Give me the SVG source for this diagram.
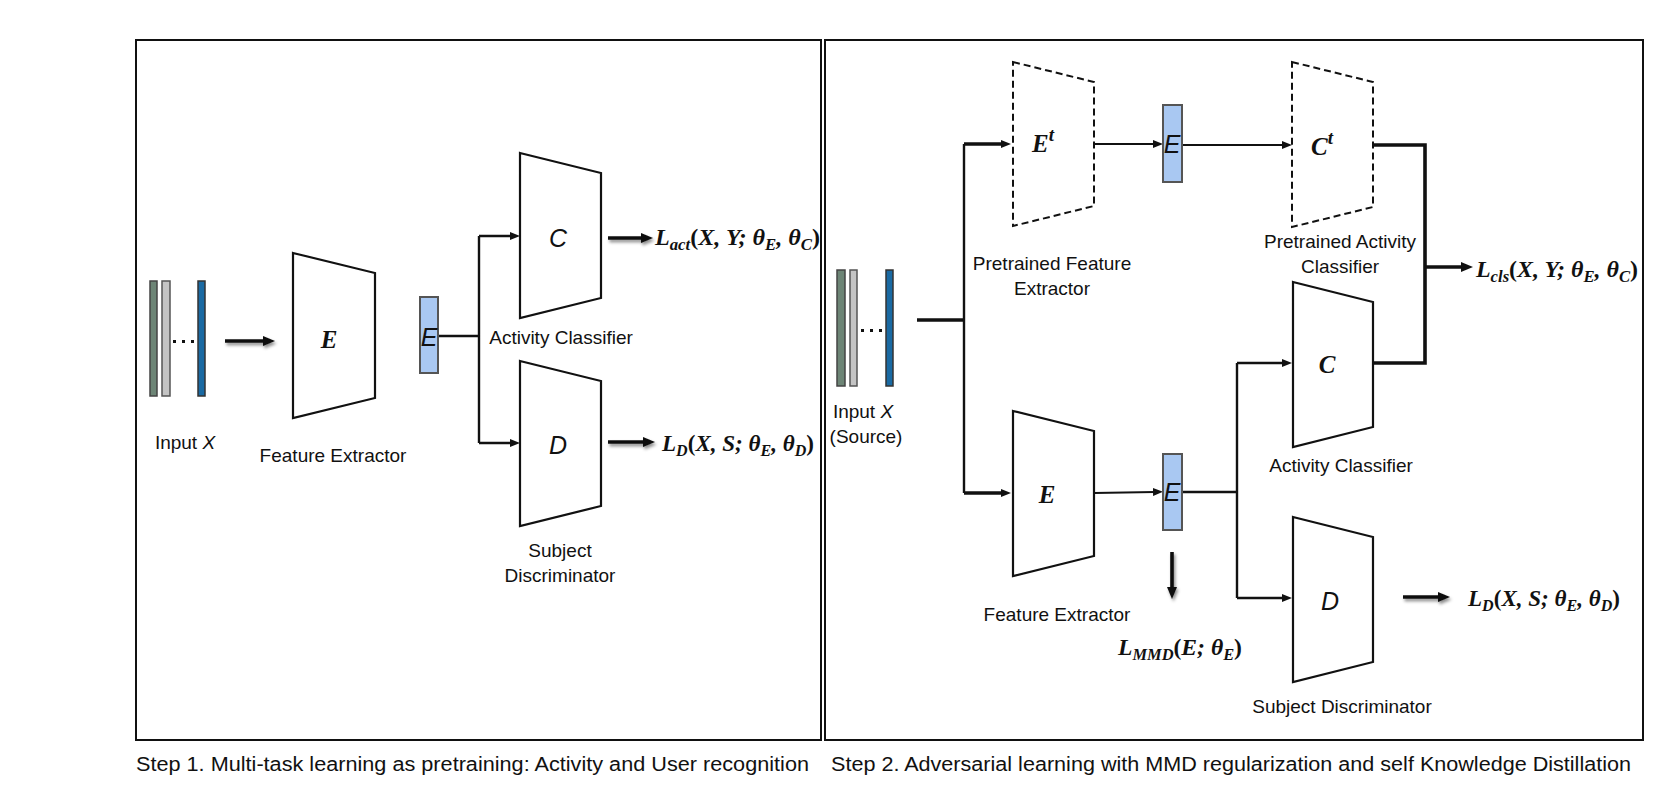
<svg xmlns="http://www.w3.org/2000/svg" width="1675" height="801" viewBox="0 0 1675 801">
<style>
  .frame{fill:none;stroke:#111;stroke-width:2}
  .trap{fill:#fff;stroke:#111;stroke-width:2.2}
  .dash{fill:#fff;stroke:#111;stroke-width:2;stroke-dasharray:7,4}
  .ebar{fill:#a9c8f2;stroke:#555;stroke-width:2}
  .lbl{font-family:"Liberation Sans",Arial,sans-serif;font-size:19px;fill:#111;text-anchor:middle}
  .cap{font-family:"Liberation Sans",Arial,sans-serif;font-size:19.5px;fill:#111}
  .sl{font-family:"Liberation Sans",Arial,sans-serif;font-style:italic;font-size:25px;fill:#111;text-anchor:middle}
  .ml{font-family:"Liberation Serif","Times New Roman",serif;font-style:italic;font-weight:bold;fill:#111}
  .mc{font-family:"Liberation Serif","Times New Roman",serif;font-style:italic;font-weight:bold;font-size:25px;fill:#111;text-anchor:middle}
  .up{font-style:normal}
  .thin{fill:none;stroke:#111;stroke-width:2.4}
  .hair{fill:none;stroke:#111;stroke-width:1.8}
  .thick{fill:none;stroke:#111;stroke-width:3.6}
</style>
<defs>
  <marker id="ht" viewBox="0 0 10 8" refX="2" refY="4" markerWidth="10" markerHeight="8" markerUnits="userSpaceOnUse" orient="auto">
    <path d="M0,0 L10,4 L0,8 z" fill="#111"/>
  </marker>
  <marker id="hk" viewBox="0 0 12 10" refX="2" refY="5" markerWidth="12" markerHeight="10" markerUnits="userSpaceOnUse" orient="auto">
    <path d="M0,0 L12,5 L0,10 z" fill="#111"/>
  </marker>
  <filter id="sh" filterUnits="userSpaceOnUse" x="0" y="0" width="1675" height="801">
    <feDropShadow dx="1.5" dy="2.5" stdDeviation="1.6" flood-color="#000" flood-opacity="0.45"/>
  </filter>
</defs>
<rect width="1675" height="801" fill="#fff"/>

<g id="frames">
  <rect class="frame" x="136" y="40" width="685" height="700"/>
  <rect class="frame" x="825" y="40" width="818" height="700"/>
</g>

<g id="connectors">
  <!-- step 1 -->
  <path class="thick" d="M225,341 H265" marker-end="url(#hk)" filter="url(#sh)"/>
  <path class="thin" d="M438,336 H479 M479,236 V443"/>
  <path class="thin" d="M479,236 H512" marker-end="url(#ht)"/>
  <path class="thin" d="M479,443 H512" marker-end="url(#ht)"/>
  <path class="thick" d="M608,238 H643" marker-end="url(#hk)" filter="url(#sh)"/>
  <path class="thick" d="M608,442 H645" marker-end="url(#hk)" filter="url(#sh)"/>
  <!-- step 2 -->
  <path class="thick" d="M917,320 H964"/>
  <path class="thin" d="M964,144 V493"/>
  <path class="thick" d="M964,144 H1003" marker-end="url(#ht)"/>
  <path class="thick" d="M964,493 H1003" marker-end="url(#ht)"/>
  <path class="hair" d="M1094,144 H1155" marker-end="url(#ht)"/>
  <path class="hair" d="M1182,145 H1284" marker-end="url(#ht)"/>
  <path class="thick" d="M1373,145 H1425 V363 H1373"/>
  <path class="thick" d="M1425,267 H1463" marker-end="url(#hk)"/>
  <path class="hair" d="M1094,493 L1155,492" marker-end="url(#ht)"/>
  <path class="thin" d="M1182,492 H1237 M1237,363 V598"/>
  <path class="thin" d="M1237,363 H1284" marker-end="url(#ht)"/>
  <path class="thin" d="M1237,598 H1284" marker-end="url(#ht)"/>
  <path class="thick" d="M1172,552 V589" marker-end="url(#hk)" filter="url(#sh)"/>
  <path class="thick" d="M1403,597 H1440" marker-end="url(#hk)" filter="url(#sh)"/>
</g>

<!-- Step 1 nodes -->
<g id="input1">
  <rect x="150" y="281" width="7" height="115" fill="#6d8576" stroke="#444" stroke-width="1.5"/>
  <rect x="162" y="281" width="8" height="115" fill="#c4c4c4" stroke="#555" stroke-width="1.5"/>
  <rect x="198" y="281" width="7" height="115" fill="#1a6aa3" stroke="#333" stroke-width="1.5"/>
  <rect x="173" y="340" width="3" height="3" fill="#111"/>
  <rect x="182" y="340" width="3" height="3" fill="#111"/>
  <rect x="191" y="340" width="3" height="3" fill="#111"/>
  <text class="lbl" x="185" y="449">Input <tspan font-style="italic">X</tspan></text>
</g>
<g id="encoder1">
  <polygon class="trap" points="293,253 375,273 375,398 293,418"/>
  <text class="mc" x="329" y="348" font-size="23">E</text>
  <text class="lbl" x="333" y="462">Feature Extractor</text>
</g>
<g id="embed1">
  <rect class="ebar" x="420" y="297" width="18" height="76"/>
  <text class="sl" x="429" y="346">E</text>
</g>
<g id="classifier1">
  <polygon class="trap" points="520,153 601,173 601,298 520,318"/>
  <text class="sl" x="558" y="247">C</text>
  <text class="lbl" x="561" y="344">Activity Classifier</text>
</g>
<g id="discriminator1">
  <polygon class="trap" points="520,361 601,381 601,506 520,526"/>
  <text class="sl" x="558" y="454">D</text>
  <text class="lbl" x="560" y="557">Subject</text>
  <text class="lbl" x="560" y="582">Discriminator</text>
</g>
<g id="loss-act">
  <text class="ml" x="655" y="245" font-size="23" textLength="165" lengthAdjust="spacingAndGlyphs">L<tspan font-size="16" dy="5">act</tspan><tspan class="up" dy="-5">(</tspan>X, Y; θ<tspan font-size="16" dy="5">E</tspan><tspan dy="-5">, θ</tspan><tspan font-size="16" dy="5">C</tspan><tspan class="up" dy="-5">)</tspan></text>
</g>
<g id="loss-d1">
  <text class="ml" x="662" y="451" font-size="23" textLength="152" lengthAdjust="spacingAndGlyphs">L<tspan font-size="16" dy="5">D</tspan><tspan class="up" dy="-5">(</tspan>X, S; θ<tspan font-size="16" dy="5">E</tspan><tspan dy="-5">, θ</tspan><tspan font-size="16" dy="5">D</tspan><tspan class="up" dy="-5">)</tspan></text>
</g>

<!-- Step 2 nodes -->
<g id="input2">
  <rect x="837" y="270" width="8" height="116" fill="#6d8576" stroke="#444" stroke-width="1.5"/>
  <rect x="850" y="270" width="7" height="116" fill="#c4c4c4" stroke="#555" stroke-width="1.5"/>
  <rect x="886" y="270" width="7" height="116" fill="#1a6aa3" stroke="#333" stroke-width="1.5"/>
  <rect x="861" y="329" width="3" height="3" fill="#111"/>
  <rect x="870" y="329" width="3" height="3" fill="#111"/>
  <rect x="879" y="329" width="3" height="3" fill="#111"/>
  <text class="lbl" x="863" y="418">Input <tspan font-style="italic">X</tspan></text>
  <text class="lbl" x="866" y="443">(Source)</text>
</g>
<g id="teacher-encoder">
  <polygon class="dash" points="1013,62 1094,82 1094,206 1013,226"/>
  <text class="ml" x="1032" y="152" font-size="25">E<tspan font-size="19" dy="-11">t</tspan></text>
  <text class="lbl" x="1052" y="270">Pretrained Feature</text>
  <text class="lbl" x="1052" y="295">Extractor</text>
</g>
<g id="teacher-embed">
  <rect class="ebar" x="1163" y="105" width="19" height="77"/>
  <text class="sl" x="1172" y="153">E</text>
</g>
<g id="teacher-classifier">
  <polygon class="dash" points="1292,62 1373,82 1373,207 1292,227"/>
  <text class="ml" x="1311" y="155" font-size="25">C<tspan font-size="19" dy="-11">t</tspan></text>
  <text class="lbl" x="1340" y="248">Pretrained Activity</text>
  <text class="lbl" x="1340" y="273">Classifier</text>
</g>
<g id="loss-cls">
  <text class="ml" x="1476" y="277" font-size="23" textLength="162" lengthAdjust="spacingAndGlyphs">L<tspan font-size="16" dy="5">cls</tspan><tspan class="up" dy="-5">(</tspan>X, Y; θ<tspan font-size="16" dy="5">E</tspan><tspan dy="-5">, θ</tspan><tspan font-size="16" dy="5">C</tspan><tspan class="up" dy="-5">)</tspan></text>
</g>
<g id="encoder2">
  <polygon class="trap" points="1013,411 1094,431 1094,556 1013,576"/>
  <text class="mc" x="1047" y="503">E</text>
  <text class="lbl" x="1057" y="621">Feature Extractor</text>
</g>
<g id="embed2">
  <rect class="ebar" x="1163" y="454" width="19" height="76"/>
  <text class="sl" x="1172" y="501">E</text>
</g>
<g id="loss-mmd">
  <text class="ml" x="1118" y="655" font-size="23" textLength="124" lengthAdjust="spacingAndGlyphs">L<tspan font-size="16" dy="5">MMD</tspan><tspan class="up" dy="-5">(</tspan>E; θ<tspan font-size="16" dy="5">E</tspan><tspan class="up" dy="-5">)</tspan></text>
</g>
<g id="classifier2">
  <polygon class="trap" points="1293,282 1373,302 1373,427 1293,447"/>
  <text class="mc" x="1327" y="373">C</text>
  <text class="lbl" x="1341" y="472">Activity Classifier</text>
</g>
<g id="discriminator2">
  <polygon class="trap" points="1293,517 1373,537 1373,662 1293,682"/>
  <text class="sl" x="1330" y="610">D</text>
  <text class="lbl" x="1342" y="713">Subject Discriminator</text>
</g>
<g id="loss-d2">
  <text class="ml" x="1468" y="606" font-size="23" textLength="152" lengthAdjust="spacingAndGlyphs">L<tspan font-size="16" dy="5">D</tspan><tspan class="up" dy="-5">(</tspan>X, S; θ<tspan font-size="16" dy="5">E</tspan><tspan dy="-5">, θ</tspan><tspan font-size="16" dy="5">D</tspan><tspan class="up" dy="-5">)</tspan></text>
</g>

<g id="captions">
  <text class="cap" x="136" y="771" textLength="673" lengthAdjust="spacingAndGlyphs">Step 1. Multi-task learning as pretraining: Activity and User recognition</text>
  <text class="cap" x="831" y="771" textLength="800" lengthAdjust="spacingAndGlyphs">Step 2. Adversarial learning with MMD regularization and self Knowledge Distillation</text>
</g>
</svg>
